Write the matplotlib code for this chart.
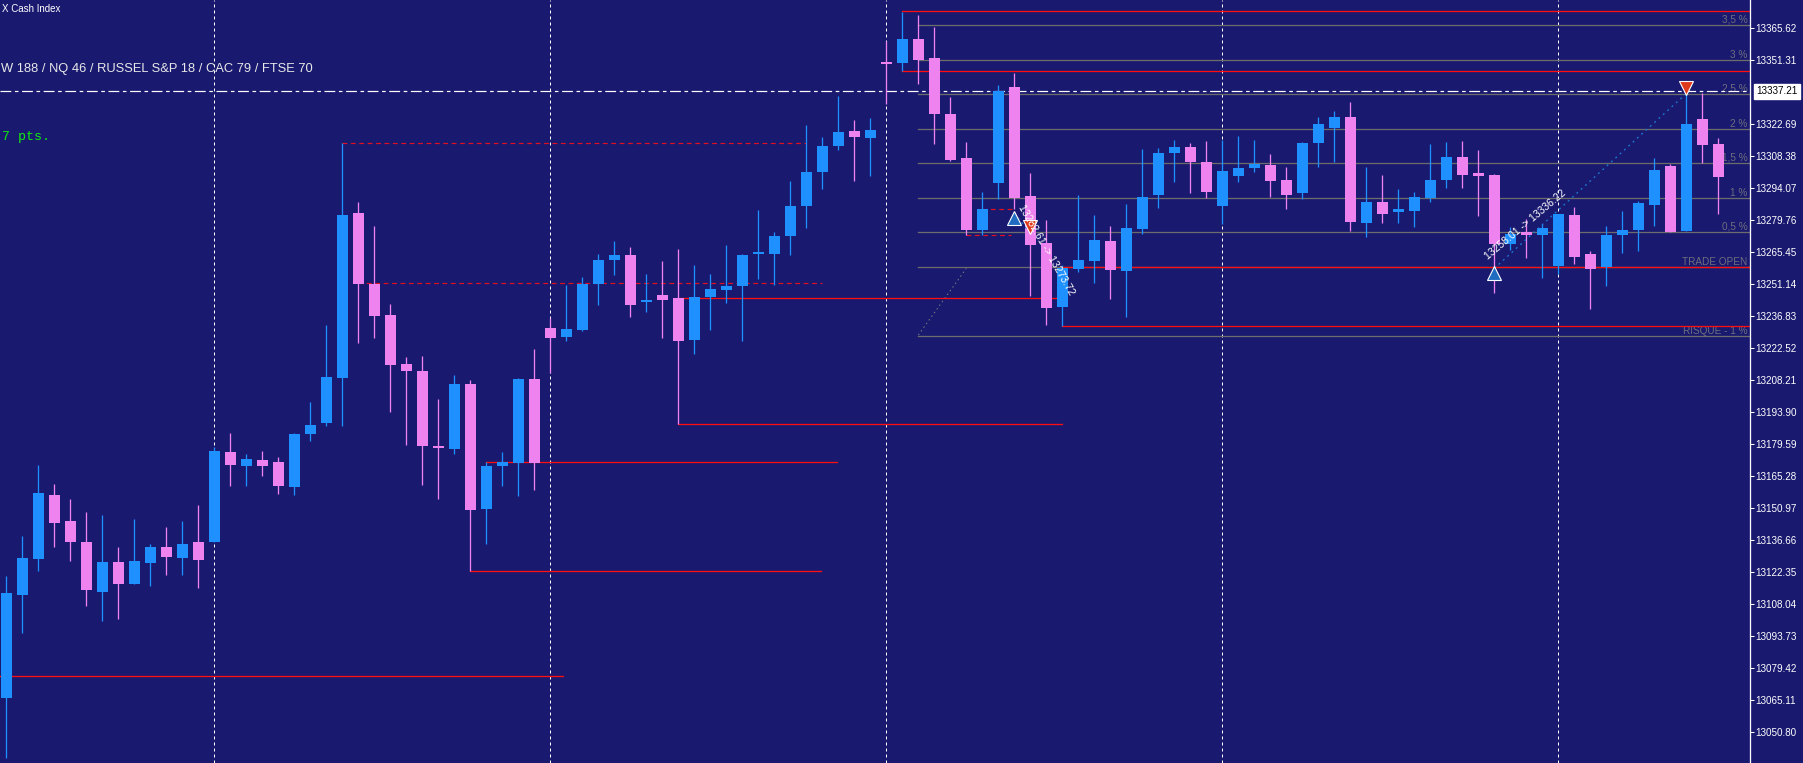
import matplotlib
matplotlib.use('Agg')
import matplotlib.pyplot as plt
from matplotlib.transforms import blended_transform_factory
import numpy as np

plt.rcParams['font.family'] = ['Liberation Sans', 'DejaVu Sans']

# ---------------- data ----------------
opens = [13066.0, 13111.9, 13128.0, 13156.7, 13145.0, 13135.6, 13113.3, 13126.7, 13116.9, 13126.2,
         13133.4, 13128.5, 13135.6, 13135.6, 13175.9, 13169.6, 13172.3, 13171.4, 13160.2, 13183.9,
         13188.9, 13209.0, 13282.8, 13251.0, 13237.1, 13215.2, 13212.1, 13178.6, 13177.2, 13206.3,
         13150.4, 13169.6, 13171.0, 13208.5, 13231.3, 13227.3, 13230.4, 13251.0, 13261.7, 13264.0,
         13243.0, 13246.1, 13244.8, 13226.0, 13245.2, 13248.3, 13250.1, 13264.4, 13264.4, 13272.5,
         13285.9, 13301.1, 13312.7, 13319.4, 13316.3, 13350.3, 13349.8, 13360.6, 13352.1, 13327.0,
         13307.4, 13275.2, 13296.2, 13339.1, 13290.4, 13269.3, 13240.7, 13257.7, 13261.3, 13270.2,
         13256.8, 13275.6, 13290.8, 13309.6, 13312.3, 13305.6, 13285.9, 13299.3, 13302.9, 13304.2,
         13297.5, 13291.7, 13314.1, 13320.8, 13325.7, 13278.3, 13287.7, 13283.2, 13283.7, 13289.5,
         13297.5, 13307.8, 13300.6, 13299.8, 13268.9, 13274.3, 13272.9, 13259.1, 13281.9, 13264.4,
         13258.6, 13272.9, 13275.2, 13286.3, 13303.8, 13274.7, 13324.8, 13313.6]
highs = [13120.4, 13138.3, 13170.1, 13161.6, 13154.9, 13149.1, 13147.7, 13133.4, 13145.9, 13134.7,
         13142.3, 13145.0, 13152.2, 13178.1, 13184.4, 13175.0, 13176.3, 13173.6, 13184.4, 13198.2,
         13232.7, 13313.9, 13287.7, 13276.9, 13242.1, 13218.4, 13218.8, 13199.6, 13210.3, 13208.1,
         13171.4, 13175.9, 13209.0, 13221.9, 13235.8, 13250.6, 13254.1, 13264.4, 13270.2, 13267.6,
         13255.5, 13261.3, 13266.7, 13259.5, 13255.5, 13268.5, 13264.4, 13284.1, 13274.3, 13297.1,
         13322.1, 13316.7, 13335.1, 13324.3, 13325.2, 13359.7, 13372.6, 13371.3, 13365.9, 13334.6,
         13314.5, 13292.2, 13340.0, 13345.4, 13300.6, 13279.6, 13259.5, 13290.8, 13281.9, 13276.9,
         13286.8, 13311.4, 13311.8, 13315.4, 13314.1, 13315.0, 13315.4, 13317.2, 13315.4, 13309.1,
         13303.3, 13314.5, 13325.7, 13328.4, 13332.4, 13303.3, 13299.8, 13293.5, 13292.2, 13313.6,
         13314.5, 13315.0, 13310.9, 13300.2, 13276.5, 13280.1, 13277.8, 13282.3, 13285.4, 13265.8,
         13276.9, 13283.7, 13288.1, 13307.4, 13304.7, 13338.7, 13336.4, 13316.3]
lows = [13039.2, 13095.1, 13122.8, 13133.4, 13127.1, 13107.0, 13100.4, 13101.3, 13116.9, 13116.0,
        13120.9, 13120.9, 13115.1, 13135.6, 13160.7, 13160.7, 13165.2, 13157.1, 13156.7, 13180.8,
        13187.5, 13187.5, 13224.6, 13226.9, 13193.8, 13179.0, 13161.1, 13154.9, 13175.0, 13122.7,
        13134.7, 13160.7, 13156.2, 13158.9, 13211.2, 13225.5, 13230.0, 13241.6, 13255.0, 13236.3,
        13238.5, 13226.9, 13188.4, 13219.7, 13230.4, 13242.5, 13225.5, 13253.2, 13250.6, 13264.0,
        13276.1, 13293.5, 13310.9, 13297.1, 13299.3, 13331.5, 13346.3, 13340.4, 13313.6, 13306.0,
        13272.9, 13272.9, 13289.0, 13284.6, 13245.6, 13232.7, 13232.2, 13256.4, 13251.5, 13244.3,
        13236.3, 13273.4, 13285.0, 13296.6, 13291.7, 13289.5, 13277.8, 13296.6, 13301.1, 13289.9,
        13284.6, 13289.0, 13303.3, 13305.6, 13274.7, 13272.0, 13278.3, 13278.3, 13276.5, 13287.7,
        13293.9, 13293.9, 13281.4, 13247.0, 13266.2, 13262.6, 13253.7, 13255.5, 13260.0, 13239.8,
        13250.1, 13264.9, 13265.8, 13276.9, 13274.3, 13274.7, 13305.1, 13282.3]
closes = [13112.8, 13128.5, 13157.5, 13144.1, 13135.6, 13114.2, 13126.7, 13116.9, 13127.1, 13133.4,
          13128.9, 13134.7, 13127.6, 13176.3, 13170.1, 13172.8, 13169.6, 13160.7, 13183.9, 13188.0,
          13209.4, 13281.9, 13251.0, 13236.7, 13214.8, 13212.1, 13178.6, 13177.7, 13206.3, 13149.9,
          13169.6, 13171.4, 13208.5, 13171.0, 13226.9, 13230.9, 13251.0, 13261.7, 13264.0, 13241.6,
          13243.9, 13243.9, 13225.5, 13245.2, 13248.8, 13250.1, 13264.0, 13265.3, 13272.5, 13285.9,
          13301.1, 13312.7, 13319.0, 13316.7, 13319.9, 13349.4, 13360.6, 13351.2, 13327.0, 13306.5,
          13275.2, 13284.6, 13337.3, 13289.5, 13268.5, 13240.3, 13258.2, 13261.7, 13270.7, 13257.3,
          13276.1, 13289.9, 13309.6, 13312.3, 13305.6, 13292.2, 13301.5, 13302.9, 13304.7, 13297.1,
          13290.8, 13314.1, 13322.6, 13325.7, 13278.7, 13287.7, 13282.3, 13284.6, 13289.9, 13297.5,
          13307.8, 13299.8, 13299.3, 13268.9, 13273.4, 13272.9, 13276.1, 13282.3, 13263.1, 13257.7,
          13272.9, 13275.2, 13287.2, 13302.0, 13274.3, 13322.6, 13313.2, 13298.9]

y_ticks = [13365.62, 13351.31, 13322.69, 13308.38, 13294.07, 13279.76, 13265.45, 13251.14,
           13236.83, 13222.52, 13208.21, 13193.90, 13179.59, 13165.28, 13150.97, 13136.66,
           13122.35, 13108.04, 13093.73, 13079.42, 13065.11, 13050.80]
current_price = 13337.21
separators = [13, 34, 55, 76, 97]

# solid red horizontal segments: (start bar, end bar, price)
red_start = [-0.5, 30, 29, 42, 42, 66, 66, 56, 56]
red_end = [34.8, 51.9, 50.9, 66, 66, 109.5, 109.5, 109.5, 109.5]
red_price = [13075.7, 13171.4, 13122.7, 13244.8, 13188.4, 13258.5, 13232.1, 13373.1, 13346.3]
# dashed red horizontal segments
dred_start = [21, 22, 61, 60]
dred_end = [50, 51, 63, 62.8]
dred_price = [13313.9, 13251.3, 13284.4, 13272.8]
# grey percentage levels
lvl_prices = [13366.7, 13351.0, 13335.8, 13320.2, 13305.0, 13289.3, 13274.1, 13258.5, 13227.6]
lvl_labels = ['3,5 %', '3 %', '2,5 %', '2 %', '1,5 %', '1 %', '0,5 %', 'TRADE OPEN', 'RISQUE - 1 %']
lvl_start = 57
# trades: open bar, open price, close bar, close price
trade_open_bar = [63, 93]
trade_open_px = [13282.6, 13258.0]
trade_close_bar = [64, 105]
trade_close_px = [13273.7, 13336.2]
trade_text = ['13282.61 -> 13273.72', '13258.01 -> 13336.22']

# header texts (as visible at the chart's left edge)
title_text = 'X Cash Index'
index_text = 'W 188 / NQ 46 / RUSSEL S&P 18 / CAC 79 / FTSE 70'
pts_text = '7 pts.'

# ---------------- style ----------------
BG = '#191970'
BULL = '#1e90ff'
BEAR = '#ee82ee'
PX = 0.72  # one pixel in points at 100 dpi
W, H = 1803, 763

fig = plt.figure(figsize=(W / 100, H / 100), dpi=100, facecolor=BG)
ax = fig.add_axes([0, 0, 1750 / W, 1])
ax.set_facecolor(BG)
ax.set_xlim(-0.396, 108.98)
ax.set_ylim(13036.80, 13378.01)

n = len(opens)
xs = np.arange(n)
o = np.array(opens); c = np.array(closes)
cols = [BULL if cc >= oo else BEAR for oo, cc in zip(o, c)]

# period separators
for s in separators:
    ax.axvline(s, color='white', lw=PX, ls=(0, (3, 3)), zorder=1)

# grey levels
for p, lab in zip(lvl_prices, lvl_labels):
    ax.plot([lvl_start, 109.5], [p, p], color='#6c6c6c', lw=PX * 1.3, zorder=1.5)
    ax.text(0.9985, p + 1.2, lab, transform=blended_transform_factory(ax.transAxes, ax.transData),
            ha='right', va='baseline', fontsize=7.2, color='#6e6e7e', zorder=2)
# dotted grey diagonal
ax.plot([57, 60], [13228.2, 13258.0], color='#7a7a7a', lw=PX, ls=(0, (1.5, 3)), zorder=1.5)

# red segments
for a, b, p in zip(red_start, red_end, red_price):
    ax.plot([a, b], [p, p], color='#ff1010', lw=PX * 1.3, zorder=2)
for a, b, p in zip(dred_start, dred_end, dred_price):
    ax.plot([a, b], [p, p], color='#e01020', lw=PX * 1.2, ls=(0, (4, 3)), zorder=2)

# current price dash-dot line
ax.axhline(current_price, color='white', lw=PX * 1.2, ls=(0, (9, 3, 3, 3)), zorder=2.5)

# candles
ax.vlines(xs, lows, highs, colors=cols, lw=PX * 1.3, zorder=3)
bottoms = np.minimum(o, c)
heights = np.maximum(np.abs(c - o), 0.5)
ax.bar(xs, heights, bottom=bottoms, width=0.69, color=cols, linewidth=0, zorder=4)

# trades
for ob, op, cb, cp in zip(trade_open_bar, trade_open_px, trade_close_bar, trade_close_px):
    ax.plot([ob, cb], [op, cp], color='#1e78d0', lw=PX * 1.3, ls=(0, (1.5, 3)), zorder=5)
    ax.plot([ob], [op - 2.2], marker='^', ms=9.5, mfc='#1f6cc0', mec='white', mew=0.8, zorder=6)
    ax.plot([cb], [cp + 2.6], marker='v', ms=9.5, mfc='#e03a1c', mec='white', mew=0.8, zorder=6)
ax.text(92.6, 13261.7, trade_text[1], rotation=40, rotation_mode='anchor', ha='left',
        va='baseline', fontsize=7.5, color='white', zorder=7)
ax.text(63.4, 13286.3, trade_text[0], rotation=-60, rotation_mode='anchor', ha='left',
        va='center', fontsize=7.5, color='white', zorder=7)

# axis
for sp in ['top', 'bottom', 'left']:
    ax.spines[sp].set_visible(False)
ax.spines['right'].set_color('white')
ax.spines['right'].set_linewidth(PX * 1.3)
ax.set_xticks([])
ax.yaxis.tick_right()
ax.set_yticks(y_ticks)
ax.set_yticklabels(['%.2f' % t for t in y_ticks])
ax.tick_params(axis='y', colors='white', length=4 * PX, width=PX, pad=1.2, labelsize=7.1)

# current price box
tb = blended_transform_factory(fig.transFigure, ax.transData)
ax.text(1756 / W, current_price, '%.2f' % current_price, transform=tb, ha='left', va='center',
        fontsize=7.1, color='black', zorder=10,
        bbox=dict(boxstyle='square,pad=0.25', fc='white', ec='white'), clip_on=False)

# header texts
fig.text(2 / W, 1 - 9.5 / H, title_text, ha='left', va='center', fontsize=7, color='white')
fig.text(1 / W, 1 - 69 / H, index_text, ha='left', va='center', fontsize=9.3, color='#e8e8e8')
fig.text(2 / W, 1 - 137 / H, pts_text, ha='left', va='center', fontsize=9.5, color='#10ee10',
         family=['Liberation Mono', 'DejaVu Sans Mono'])

fig.savefig('out.png', dpi=100, facecolor=BG)
